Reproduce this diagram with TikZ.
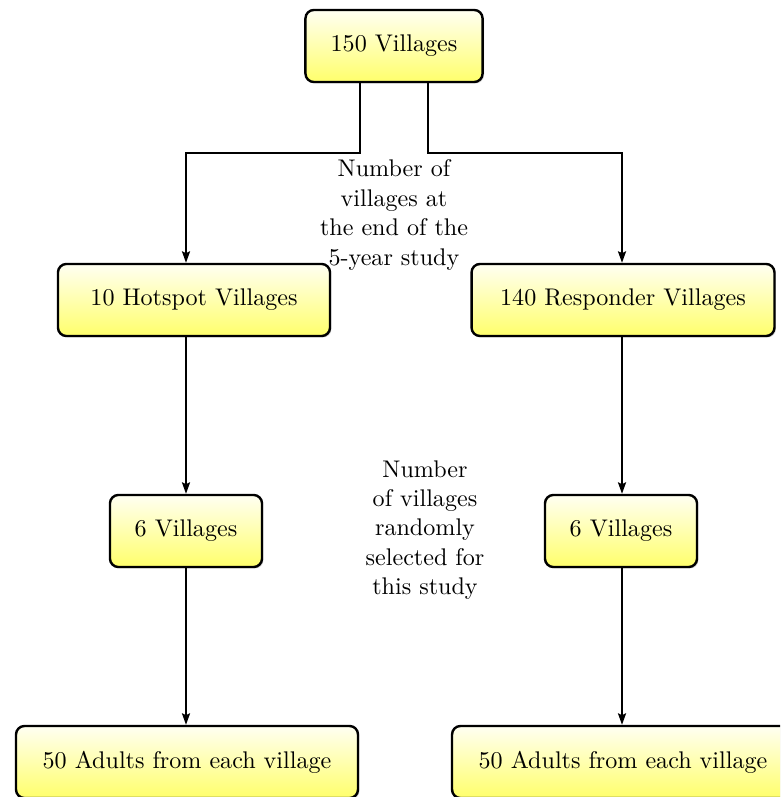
\documentclass[tikz,border=0pt]{standalone}
\usetikzlibrary{arrows.meta,shadows,calc}
\begin{document}
\begin{tikzpicture}[x=0.415pt,y=-0.415pt,
  box/.style={draw=black, line width=1pt, rounded corners=3.5pt,
    top color=yellow!5!white, bottom color=yellow!58!white,
    minimum height=29.9pt, inner sep=0pt,
    drop shadow={shadow xshift=0.6pt, shadow yshift=-0.6pt, opacity=0.35}},
  arr/.style={line width=0.65pt, -{Stealth[length=4.8pt,width=3.4pt,inset=0.8pt]}},
  lbl/.style={align=center, inner sep=0pt, font=\fontsize{10}{12.2}\selectfont}]
\clip (0,0) rectangle (780,797);
\useasboundingbox (0,0) rectangle (780,797);
\fill[white] (0,0) rectangle (780,797);
\node[box, minimum width=73.5pt] (top) at (394,46) {150 Villages};
\node[box, minimum width=112.9pt] (hot) at (194,300) {10 Hotspot Villages};
\node[box, minimum width=125.7pt] (resp) at (623,300) {140 Responder Villages};
\node[box, minimum width=63.1pt] (sixl) at (186,531) {6 Villages};
\node[box, minimum width=63.1pt] (sixr) at (621,531) {6 Villages};
\node[box, minimum width=141.9pt] (botl) at (187,762) {50 Adults from each village};
\node[box, minimum width=141.9pt] (botr) at (623,762) {50 Adults from each village};
\coordinate (mid) at (394,153);
\coordinate (ta) at ($(top.south)+(-34,0)$);
\coordinate (tb) at ($(top.south)+(34,0)$);
\coordinate (hx) at (186,300);
\coordinate (rx) at (622,300);
\draw[arr] (ta) -- (ta |- mid) -| (hx |- hot.north);
\draw[arr] (tb) -- (tb |- mid) -| (rx |- resp.north);
\draw[arr] (hx |- hot.south) -- (hx |- sixl.north);
\draw[arr] (rx |- resp.south) -- (rx |- sixr.north);
\draw[arr] (hx |- sixl.south) -- (hx |- botl.north);
\draw[arr] (rx |- sixr.south) -- (rx |- botr.north);
\node[lbl] (l1) at (394,215) {Number of\\villages at\\the end of the\\5-year study};
\node[lbl] (l2) at (425,530) {Number\\of villages\\randomly\\selected for\\this study};
\end{tikzpicture}
\end{document}
